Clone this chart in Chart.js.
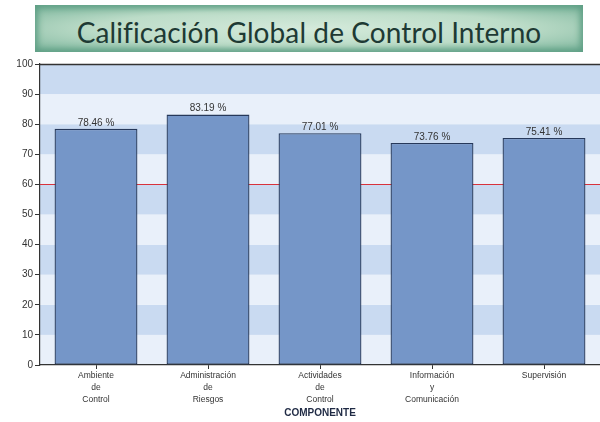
<!DOCTYPE html>
<html>
<head>
<meta charset="utf-8">
<script src="https://cdn.jsdelivr.net/npm/chart.js@4"></script>
<style>
html,body{margin:0;padding:0;background:#fff;}
#wrap{position:relative;width:600px;height:422px;overflow:hidden;background:#fff;}
#title{position:absolute;left:35px;top:5px;width:548px;height:47px;
  background:radial-gradient(ellipse at center,#d4eadb 0%,#bcdcc8 55%,#79b39a 100%);
  box-shadow:inset 0 0 6px 3px #5f9f85;
  display:flex;align-items:center;justify-content:center;box-sizing:border-box;padding-top:6px;
  font-family:Lato,"Open Sans",sans-serif;font-size:28px;color:#1e3a34;letter-spacing:0.1px;}
#c{position:absolute;left:0;top:0;}
</style>
</head>
<body>
<div id="wrap">
<div id="title">Calificación Global de Control Interno</div>
<canvas id="c" width="600" height="422"></canvas>
</div>
<script>
const categories = [
  ["Ambiente","de","Control"],
  ["Administración","de","Riesgos"],
  ["Actividades","de","Control"],
  ["Información","y","Comunicación"],
  ["Supervisión"]
];
const values = [78.46, 83.19, 77.01, 73.76, 75.41];
const yTicks = [0,10,20,30,40,50,60,70,80,90,100];
const threshold = [60];
const axisTitle = "COMPONENTE";

const bgPlugin = {
  id:'bg',
  beforeDraw(chart){
    const {ctx, chartArea:a, scales:{y}} = chart;
    ctx.save();
    for(let i=0;i<yTicks.length-1;i++){
      const y0 = y.getPixelForValue(yTicks[i]);
      const y1 = y.getPixelForValue(yTicks[i+1]);
      ctx.fillStyle = (i%2===0) ? '#e9f0fa' : '#c9daf1';
      ctx.fillRect(a.left, y1, a.right-a.left, y0-y1);
    }
    ctx.restore();
  },
  beforeDatasetsDraw(chart){
    const {ctx, chartArea:a, scales:{y}} = chart;
    ctx.save();
    threshold.forEach(t=>{
      const py = Math.round(y.getPixelForValue(t))+0.5;
      ctx.strokeStyle='#d8323c';ctx.lineWidth=1;
      ctx.beginPath();ctx.moveTo(a.left,py);ctx.lineTo(a.right,py);ctx.stroke();
    });
    const ty = Math.round(y.getPixelForValue(100))+0.5;
    ctx.strokeStyle='#333';ctx.lineWidth=1.5;
    ctx.beginPath();ctx.moveTo(a.left,ty);ctx.lineTo(a.right,ty);ctx.stroke();
    ctx.restore();
  },
  afterDatasetsDraw(chart){
    const {ctx} = chart;
    const meta = chart.getDatasetMeta(0);
    ctx.save();
    ctx.font='10px Arial, "Liberation Sans", sans-serif';
    ctx.fillStyle='#333';ctx.textAlign='center';ctx.textBaseline='bottom';
    meta.data.forEach((bar,i)=>{
      ctx.fillText(values[i].toFixed(2)+' %', bar.x, bar.y-1);
    });
    ctx.restore();
  }
};

new Chart(document.getElementById('c'),{
  type:'bar',
  data:{labels:categories,datasets:[{data:values,backgroundColor:'#7596c8',borderColor:'#26385a',borderWidth:1.3,borderSkipped:false,categoryPercentage:1,barPercentage:0.74}]},
  options:{
    responsive:false,animation:false,
    layout:{padding:{top:64,right:0,left:0,bottom:0}},
    plugins:{legend:{display:false},tooltip:{enabled:false},title:{display:false}},
    scales:{
      x:{
        grid:{display:true,drawOnChartArea:false,offset:false,tickLength:4,color:'#333'},
        border:{display:true,color:'#333',width:1.2},
        ticks:{font:{size:8.5,lineHeight:1.4,family:'Arial, "Liberation Sans", sans-serif'},color:'#333',padding:1,maxRotation:0,autoSkip:false},
        title:{display:true,text:axisTitle,font:{size:10,weight:'bold',family:'Arial, "Liberation Sans", sans-serif'},color:'#1f2a44',padding:{top:0,bottom:3}},
        afterFit(s){s.height=57;}
      },
      y:{
        min:0,max:100,
        afterBuildTicks(s){s.ticks=yTicks.map(v=>({value:v}));},
        grid:{display:true,drawOnChartArea:false,tickLength:5,color:'#333'},
        border:{display:true,color:'#333',width:1.2},
        ticks:{font:{size:10,family:'Arial, "Liberation Sans", sans-serif'},color:'#333',padding:2},
        afterFit(s){s.width=40;}
      }
    }
  },
  plugins:[bgPlugin]
});
</script>
</body>
</html>
